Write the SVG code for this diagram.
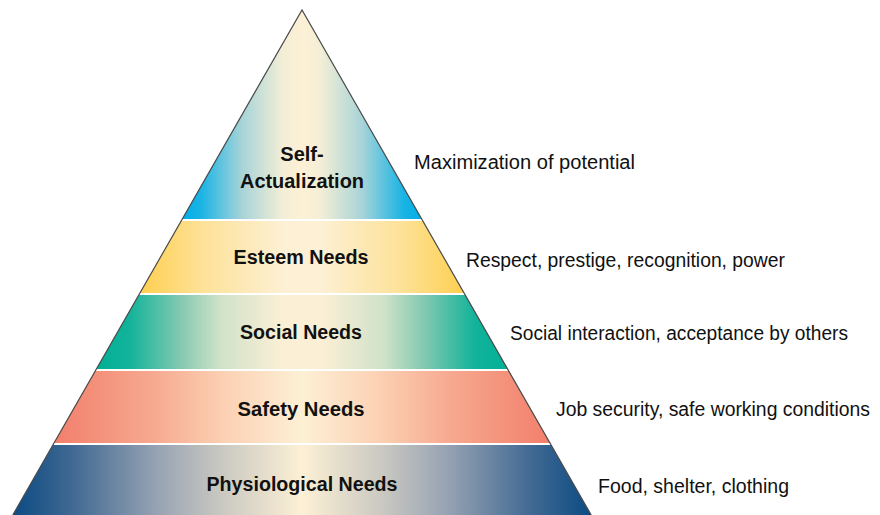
<svg xmlns="http://www.w3.org/2000/svg" width="880" height="515" viewBox="0 0 880 515">
<style>
.lbl{font-family:"Liberation Sans",Arial,sans-serif;font-weight:bold;font-size:20px;fill:#111;text-anchor:middle}
.desc{font-family:"Liberation Sans",Arial,sans-serif;font-size:20px;fill:#111}
</style>
<defs>
<linearGradient id="gSelf" x1="0" y1="0" x2="1" y2="0">
<stop offset="0" stop-color="#00aee8"/><stop offset="0.08" stop-color="#1cb4e4"/><stop offset="0.25" stop-color="#a8d4d8"/><stop offset="0.42" stop-color="#f3eed6"/><stop offset="0.5" stop-color="#fdf0d5"/><stop offset="0.58" stop-color="#f3eed6"/><stop offset="0.75" stop-color="#a8d4d8"/><stop offset="0.92" stop-color="#1cb4e4"/><stop offset="1" stop-color="#00aee8"/>
</linearGradient>
<linearGradient id="gEst" x1="0" y1="0" x2="1" y2="0">
<stop offset="0" stop-color="#fecf50"/><stop offset="0.2" stop-color="#fde29a"/><stop offset="0.45" stop-color="#fdf0d5"/><stop offset="0.55" stop-color="#fdf0d5"/><stop offset="0.8" stop-color="#fde29a"/><stop offset="1" stop-color="#fecf50"/>
</linearGradient>
<linearGradient id="gSoc" x1="0" y1="0" x2="1" y2="0">
<stop offset="0" stop-color="#00b096"/><stop offset="0.08" stop-color="#12b39a"/><stop offset="0.2" stop-color="#80c8b0"/><stop offset="0.3" stop-color="#cfe2c8"/><stop offset="0.45" stop-color="#fbefd5"/><stop offset="0.55" stop-color="#fbefd5"/><stop offset="0.7" stop-color="#cfe2c8"/><stop offset="0.8" stop-color="#80c8b0"/><stop offset="0.92" stop-color="#12b39a"/><stop offset="1" stop-color="#00b096"/>
</linearGradient>
<linearGradient id="gSaf" x1="0" y1="0" x2="1" y2="0">
<stop offset="0" stop-color="#f27f6c"/><stop offset="0.2" stop-color="#f6a98f"/><stop offset="0.35" stop-color="#fcd2b5"/><stop offset="0.5" stop-color="#fdf0d5"/><stop offset="0.65" stop-color="#fcd2b5"/><stop offset="0.8" stop-color="#f6a98f"/><stop offset="1" stop-color="#f27f6c"/>
</linearGradient>
<linearGradient id="gPhy" x1="0" y1="0" x2="1" y2="0">
<stop offset="0" stop-color="#0b4b83"/><stop offset="0.1" stop-color="#3f6892"/><stop offset="0.25" stop-color="#97a3b3"/><stop offset="0.35" stop-color="#c5c5c0"/><stop offset="0.5" stop-color="#fdf0d5"/><stop offset="0.65" stop-color="#c5c5c0"/><stop offset="0.75" stop-color="#97a3b3"/><stop offset="0.9" stop-color="#3f6892"/><stop offset="1" stop-color="#0b4b83"/>
</linearGradient>
</defs>
<rect width="880" height="515" fill="#fff"/>
<g id="self-actualization">
<polygon points="302,10 421.7,219 182.3,219" fill="url(#gSelf)"/>
<text class="lbl" x="302" y="160.5">Self-</text>
<text class="lbl" x="302" y="188" textLength="124" lengthAdjust="spacingAndGlyphs">Actualization</text>
<text class="desc" x="414" y="169" textLength="221" lengthAdjust="spacingAndGlyphs">Maximization of potential</text>
</g>
<g id="esteem">
<polygon points="181.2,221 422.8,221 464,293 140,293" fill="url(#gEst)"/>
<text class="lbl" x="301" y="264" textLength="135" lengthAdjust="spacingAndGlyphs">Esteem Needs</text>
<text class="desc" x="466" y="267" textLength="319" lengthAdjust="spacingAndGlyphs">Respect, prestige, recognition, power</text>
</g>
<g id="social">
<polygon points="138.8,295 465.2,295 507.6,369 96.4,369" fill="url(#gSoc)"/>
<text class="lbl" x="301" y="339" textLength="122" lengthAdjust="spacingAndGlyphs">Social Needs</text>
<text class="desc" x="510" y="340" textLength="338" lengthAdjust="spacingAndGlyphs">Social interaction, acceptance by others</text>
</g>
<g id="safety">
<polygon points="95.3,371 508.7,371 549.9,443 54.1,443" fill="url(#gSaf)"/>
<text class="lbl" x="301" y="416" textLength="127" lengthAdjust="spacingAndGlyphs">Safety Needs</text>
<text class="desc" x="556" y="416" textLength="314" lengthAdjust="spacingAndGlyphs">Job security, safe working conditions</text>
</g>
<g id="physiological">
<polygon points="52.9,445 551.1,445 591.2,515 12.8,515" fill="url(#gPhy)"/>
<text class="lbl" x="302" y="491" textLength="191" lengthAdjust="spacingAndGlyphs">Physiological Needs</text>
<text class="desc" x="598" y="493" textLength="191" lengthAdjust="spacingAndGlyphs">Food, shelter, clothing</text>
</g>
<g id="connectors">
<polyline points="12.8,515 302,10 591.2,515" fill="none" stroke="#4a4a4a" stroke-width="1.2" stroke-linejoin="miter"/>
</g>
</svg>
